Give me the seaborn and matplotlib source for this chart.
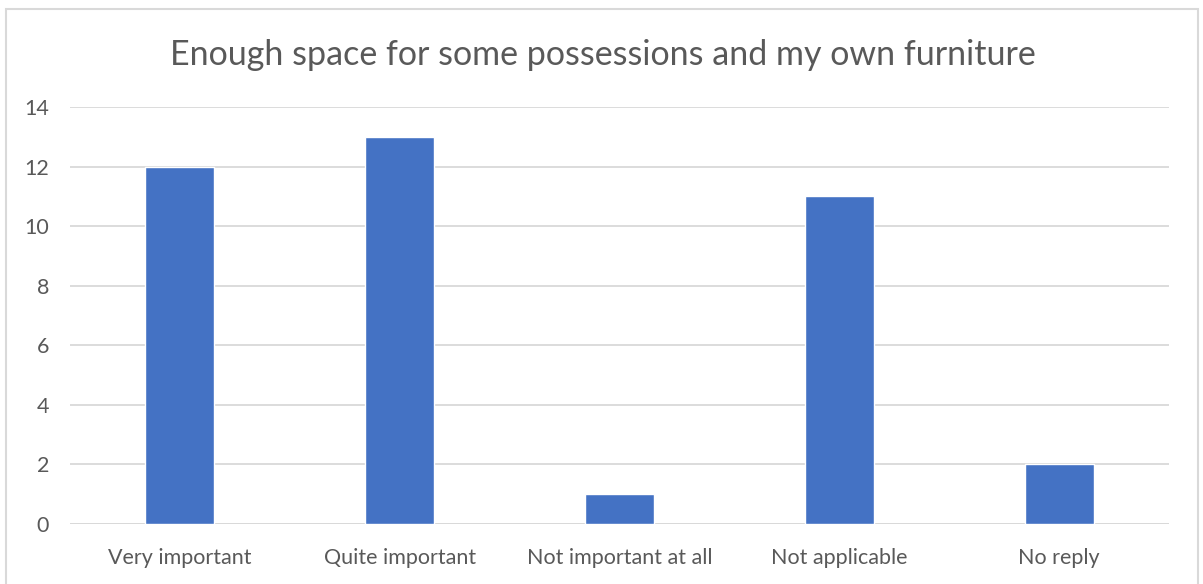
import matplotlib
matplotlib.use("Agg")
import matplotlib.pyplot as plt
import matplotlib.patches as mpatches
import seaborn as sns
import pandas as pd

categories = ["Very important", "Quite important", "Not important at all", "Not applicable", "No reply"]
counts = [12, 13, 1, 11, 2]
y_ticks = [0, 2, 4, 6, 8, 10, 12, 14]
title = "Enough space for some possessions and my own furniture"

sns.set_theme(style="white")
plt.rcParams["font.family"] = ["Lato", "DejaVu Sans"]

text_color = "#595959"
grid_color = "#d9d9d9"
bar_color = "#4472c4"

df = pd.DataFrame({"category": categories, "count": counts})

fig = plt.figure(figsize=(12.03, 5.84), dpi=100)
ax = fig.add_axes([70 / 1203, 1 - 524 / 584, (1169 - 70) / 1203, (524 - 107) / 584])

sns.barplot(data=df, x="category", y="count", color=bar_color, width=0.314,
            saturation=1, ax=ax, zorder=3)

ax.set_ylim(0, 14)
ax.set_xlim(-0.5, len(categories) - 0.5)
ax.set_yticks(y_ticks)
ax.yaxis.grid(True, color=grid_color, linewidth=1.3, zorder=0)
ax.set_axisbelow(True)
for side in ["top", "right", "left", "bottom"]:
    ax.spines[side].set_visible(False)
ax.axhline(0, color=grid_color, linewidth=1.3, zorder=1)

ax.set_xlabel("")
ax.set_ylabel("")
ax.tick_params(axis="both", length=0, labelsize=15.5, colors=text_color)
ax.tick_params(axis="x", pad=17)
ax.tick_params(axis="y", pad=15)
for lbl in ax.get_yticklabels():
    lbl.set_horizontalalignment("right")

fig.text(603 / 1203, 1 - 55 / 584, title, ha="center", va="center",
         fontsize=24.5, color=text_color)

# chart-area frame
frame = mpatches.Rectangle((6 / 1203, -0.05), (1198 - 6) / 1203, 1.05 - 9 / 584,
                           transform=fig.transFigure, fill=False,
                           edgecolor=grid_color, linewidth=1.5, clip_on=False)
fig.patches.append(frame)

fig.savefig("out.png", dpi=100, facecolor="white")
